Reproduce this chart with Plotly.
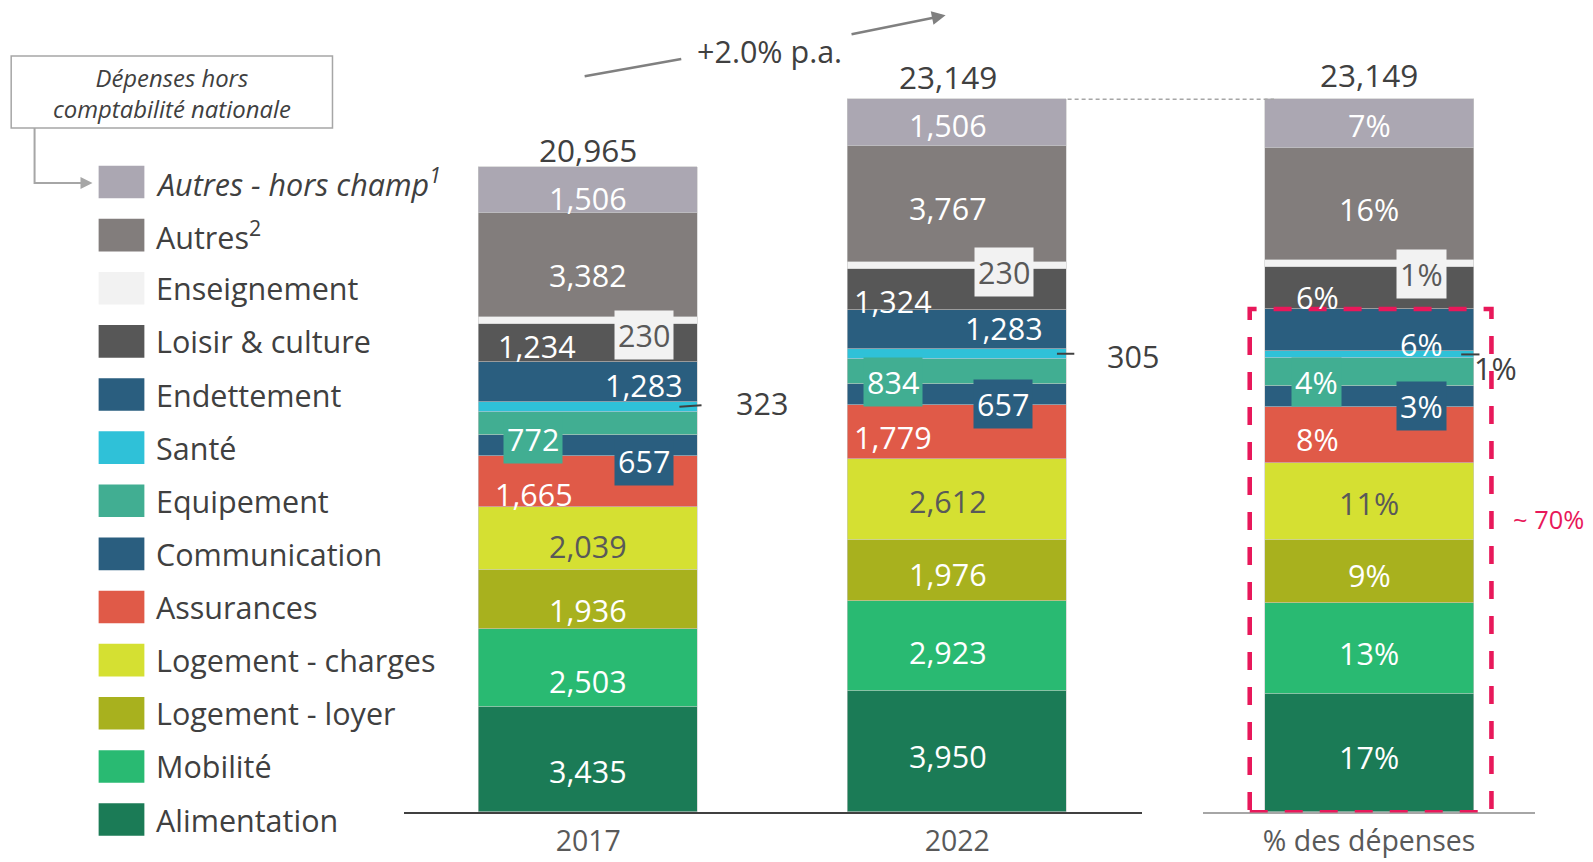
import plotly.graph_objects as go

# ---------------- data ----------------
categories = ["Alimentation", "Mobilité", "Logement - loyer", "Logement - charges",
              "Assurances", "Communication", "Equipement", "Santé", "Endettement",
              "Loisir & culture", "Enseignement", "Autres", "Autres - hors champ"]
legend_labels = ["Alimentation", "Mobilité", "Logement - loyer", "Logement - charges",
                 "Assurances", "Communication", "Equipement", "Santé", "Endettement",
                 "Loisir & culture", "Enseignement", "Autres<sup>2</sup>",
                 "<i>Autres - hors champ<sup>1</sup></i>"]
years = ["2017", "2022"]
values_2017 = [3435, 2503, 1936, 2039, 1665, 657, 772, 323, 1283, 1234, 230, 3382, 1506]
values_2022 = [3950, 2923, 1976, 2612, 1779, 657, 834, 305, 1283, 1324, 230, 3767, 1506]
share_pct = [17, 13, 9, 11, 8, 3, 4, 1, 6, 6, 1, 16, 7]
totals = [20965, 23149]
total_pct_bar = 23149
pct_category = "% des dépenses"
growth_label = "+2.0% p.a."
box_label = "<i>Dépenses hors<br>comptabilité nationale</i>"
highlight_label = "~ 70%"

# ---------------- style ----------------
colors = ["#1b7b56", "#29ba72", "#a8b11e", "#d5e032", "#e05a48", "#2a5e7f",
          "#41ae92", "#2fc1d8", "#2a5e7f", "#575757", "#f2f2f2", "#827d7c", "#aba7b2"]
text_dark = "#595959"
label_colors = ["white", "white", "white", text_dark, "white", "white", "white",
                text_dark, "white", "white", text_dark, "white", "white"]
NUM_FONT = "Open Sans"
TXT_FONT = "Open Sans"
RED = "#e8185a"
GREY = "#808080"

# mapping from target picture pixels to figure pixels
S = 0.9835          # observed screenshot scale
OX, OY = 8, 8       # page body margin
FW, FH = 1600, 858


def X(x):
    return (x / S - OX) / FW


def Y(y):
    return 1 - (y / S - OY) / FH


def P(v):
    return v / S


BASE_PX = 799            # baseline row in target picture
PX_PER_UNIT = 0.0303     # target pixels per value unit
Y_MAX = (BASE_PX / S - OY) / (PX_PER_UNIT / S)
Y2_MAX = Y_MAX * sum(share_pct) / total_pct_bar
dom_bottom = Y(BASE_PX)

# (dx px, dy px, kind) per segment
place_2017 = [(0, -11, "c"), (0, -13, "c"), (0, -10, "c"), (0, -7, "c"), (-53, -12, "c"),
              (55, -15, "box"), (-54, -15, "box"), (171, 4, "out"), (55, -3, "c"),
              (-50, -3, "c"), (55, -14, "box"), (0, -10, "c"), (0, -8, "c")]
place_2022 = [(-9, -4, "c"), (-9, -6, "c"), (-9, -4, "c"), (-9, -1, "c"), (-63, -5, "c"),
              (45, -9, "box"), (-63, -10, "box"), (173, -2, "out"), (46, 1, "c"),
              (-63, -12, "c"), (46, -7, "box"), (-9, -4, "c"), (-9, -2, "c")]
place_pct = [(0, -4, "c"), (0, -5, "c"), (0, -4, "c"), (0, -2, "c"), (-51, -4, "c"),
             (52, -9, "box"), (-52, -10, "box"), (124, -13, "out"), (52, -14, "c"),
             (-51, -9, "c"), (52, -10, "box"), (0, -5, "c"), (0, -1, "c")]

fig = go.Figure()

for i, cat in enumerate(categories):
    fig.add_trace(go.Bar(
        x=years, y=[values_2017[i], values_2022[i]], name=cat,
        marker=dict(color=colors[i], line=dict(color="#c8c8c8", width=0.6)),
        width=0.595, xaxis="x", yaxis="y", showlegend=False, hoverinfo="skip"))
    fig.add_trace(go.Bar(
        x=[pct_category], y=[share_pct[i]], name=cat,
        marker=dict(color=colors[i], line=dict(color="#c8c8c8", width=0.6)),
        width=0.63, xaxis="x2", yaxis="y2", showlegend=False, hoverinfo="skip"))

annotations = []
shapes = []


def seg_labels(vals, texts, xcat, xref, yref, places):
    cum = 0
    for i, v in enumerate(vals):
        mid = cum + v / 2
        dx, dy, kind = places[i]
        fcol = label_colors[i]
        ann = dict(x=xcat, y=mid, xref=xref, yref=yref, text=texts[i], showarrow=False,
                   xanchor="center", yanchor="middle",
                   xshift=P(dx), yshift=P(dy), font=dict(family=NUM_FONT, size=P(30), color=fcol))
        if kind == "box":
            ann.update(bgcolor=colors[i], borderpad=3)
        if kind == "out":
            ann["font"] = dict(family=NUM_FONT, size=P(30), color="#404040")
        annotations.append(ann)
        cum += v


def cum_mid(vals, idx):
    return sum(vals[:idx]) + vals[idx] / 2


seg_labels(values_2017, [f"{v:,}" for v in values_2017], 0, "x", "y", place_2017)
seg_labels(values_2022, [f"{v:,}" for v in values_2022], 1, "x", "y", place_2022)
seg_labels(share_pct, [f"{v}%" for v in share_pct], 0, "x2", "y2", place_pct)

# totals
total_shift = [(0, 17), (-9, 22)]
for j, t in enumerate(totals):
    annotations.append(dict(x=j, y=sum([values_2017, values_2022][j]), xref="x", yref="y",
                            text=f"{t:,}", showarrow=False,
                            xshift=P(total_shift[j][0]), yshift=P(total_shift[j][1]),
                            xanchor="center", yanchor="middle",
                            font=dict(family=NUM_FONT, size=P(31), color="#404040")))
annotations.append(dict(x=0, y=sum(share_pct), xref="x2", yref="y2", text=f"{total_pct_bar:,}",
                        showarrow=False, yshift=P(24), xanchor="center", yanchor="middle",
                        font=dict(family=NUM_FONT, size=P(31), color="#404040")))

# leader lines for Santé
sante = categories.index("Santé")
shapes.append(dict(type="line", xref="x", yref="y", x0=0.247, x1=0.307,
                   y0=cum_mid(values_2017, sante), y1=cum_mid(values_2017, sante) + 50,
                   line=dict(color="#404040", width=2)))
shapes.append(dict(type="line", xref="x", yref="y", x0=1.27, x1=1.317,
                   y0=cum_mid(values_2022, sante), y1=cum_mid(values_2022, sante),
                   line=dict(color="#404040", width=2)))
shapes.append(dict(type="line", xref="x2", yref="y2", x0=0.277, x1=0.332,
                   y0=cum_mid(share_pct, sante), y1=cum_mid(share_pct, sante),
                   line=dict(color="#404040", width=2)))

# dashed connector between 2022 total and % bar
shapes.append(dict(type="line", xref="paper", yref="y", x0=X(1050), x1=X(1253),
                   y0=total_pct_bar, y1=total_pct_bar,
                   line=dict(color="#a6a6a6", width=1.5, dash="4px,3px")))

# red dashed highlight (~70%)
endet = categories.index("Endettement")
shapes.append(dict(type="rect", xref="x2", yref="y2", x0=-0.359, x1=0.368,
                   y0=0, y1=sum(share_pct[:endet + 1]),
                   line=dict(color=RED, width=P(4.5), dash="18px,17px")))
annotations.append(dict(x=X(1486), y=Y(510), xref="paper", yref="paper", text=highlight_label,
                        showarrow=False, xanchor="left", yanchor="middle",
                        font=dict(family=TXT_FONT, size=P(25), color=RED)))

# growth arrow
shapes.append(dict(type="line", xref="paper", yref="paper", x0=X(575), y0=Y(75),
                   x1=X(670), y1=Y(58), line=dict(color=GREY, width=2.5)))
annotations.append(dict(x=X(930), y=Y(15), xref="paper", yref="paper", text="",
                        showarrow=True, ax=P(-94), ay=P(19), arrowhead=2, arrowsize=1.1,
                        arrowwidth=2.5, arrowcolor=GREY))
annotations.append(dict(x=X(757), y=Y(50), xref="paper", yref="paper", text=growth_label,
                        showarrow=False, xanchor="center", yanchor="middle",
                        font=dict(family=TXT_FONT, size=P(30), color="#404040")))

# legend (custom)
order = list(range(len(categories)))[::-1]
for k, i in enumerate(order):
    yc = 179 + k * 52.25
    shapes.append(dict(type="rect", xref="paper", yref="paper", x0=X(97), x1=X(142),
                       y0=Y(yc + 16), y1=Y(yc - 16),
                       fillcolor=colors[i], line=dict(width=0)))
    annotations.append(dict(x=X(151), y=Y(yc), xref="paper", yref="paper",
                            text=legend_labels[i], showarrow=False,
                            xanchor="left", yanchor="middle",
                            font=dict(family=TXT_FONT, size=P(30), color="#404040")))

# box "Dépenses hors comptabilité nationale"
shapes.append(dict(type="rect", xref="paper", yref="paper", x0=X(11), x1=X(327),
                   y0=Y(126), y1=Y(55), line=dict(color="#a6a6a6", width=1.5)))
annotations.append(dict(x=X(169), y=Y(91), xref="paper", yref="paper", text=box_label,
                        showarrow=False, xanchor="center", yanchor="middle",
                        font=dict(family=TXT_FONT, size=P(23.5), color="#404040")))
shapes.append(dict(type="path", xref="paper", yref="paper",
                   path=f"M {X(34)} {Y(126)} L {X(34)} {Y(180)} L {X(78)} {Y(180)}",
                   line=dict(color="#a6a6a6", width=2)))
annotations.append(dict(x=X(91), y=Y(180), xref="paper", yref="paper", text="",
                        showarrow=True, ax=P(-16), ay=0, arrowhead=2, arrowsize=1.2,
                        arrowwidth=2, arrowcolor="#a6a6a6"))

STANDOFF = 2

fig.update_layout(
    width=FW, height=FH, barmode="stack", bargap=0,
    margin=dict(l=0, r=0, t=0, b=0),
    paper_bgcolor="white", plot_bgcolor="rgba(0,0,0,0)",
    showlegend=False,
    xaxis=dict(domain=[X(397), X(1123)], anchor="y", type="category", range=[-0.5, 1.5],
               showline=True, linecolor="#404040", linewidth=2, ticks="",
               tickfont=dict(family=TXT_FONT, size=P(28), color=text_dark),
               ticklabelstandoff=STANDOFF, showgrid=False, zeroline=False, automargin=False),
    xaxis2=dict(domain=[X(1183), X(1510)], anchor="y2", type="category", range=[-0.5, 0.5],
                showline=True, linecolor="#a6a6a6", linewidth=2, ticks="",
                tickfont=dict(family=TXT_FONT, size=P(28), color=text_dark),
                ticklabelstandoff=STANDOFF, showgrid=False, zeroline=False, automargin=False),
    yaxis=dict(domain=[dom_bottom, 1], range=[0, Y_MAX], visible=False, anchor="x"),
    yaxis2=dict(domain=[dom_bottom, 1], range=[0, Y2_MAX], visible=False, anchor="x2"),
    annotations=annotations, shapes=shapes,
)

fig.write_html("out.html")
